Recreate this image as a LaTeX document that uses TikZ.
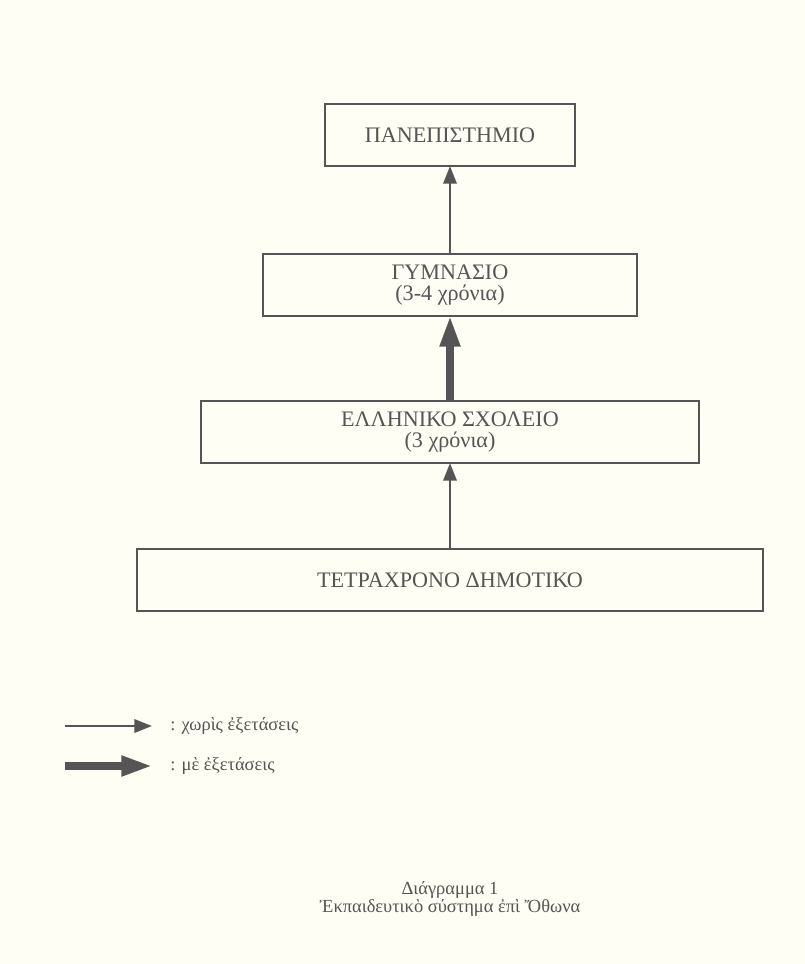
\documentclass[tikz,border=0pt]{standalone}
\usepackage{fontspec}
\setmainfont{Liberation Serif}
\usepackage{tikz}
\usetikzlibrary{arrows.meta}
\definecolor{paper}{RGB}{254,254,244}
\definecolor{ink}{RGB}{85,85,85}
\tikzstyle{arrT}=[-{Triangle[length=10pt,width=7.5pt]},line width=1.5pt,draw=ink]
\tikzstyle{arrB}=[-{Triangle[length=17.5pt,width=11pt]},line width=4pt,draw=ink]

\begin{document}
\begin{tikzpicture}[x=0.02cm,y=-0.02cm]
  \tikzstyle levelS=[draw=ink,line width=1pt,text=ink,inner sep=0pt,outer sep=0pt,
    minimum height=1.24cm,align=center,font=\fontsize{12.6}{12}\selectfont];
  \tikzstyle noteS=[text=ink,inner sep=0pt,font=\fontsize{10.5}{9.5}\selectfont];
  \fill[paper] (0,0) rectangle (805,964);
  \useasboundingbox (0,0) rectangle (805,964);
  \foreach \ly/\lw/\lname/\ltext in {
    135/5.00/uni/ΠΑΝΕΠΙΣΤΗΜΙΟ,
    285/7.48/gym/{ΓΥΜΝΑΣΙΟ\\(3-4 χρόνια)},
    432/9.96/ell/{ΕΛΛΗΝΙΚΟ ΣΧΟΛΕΙΟ\\(3 χρόνια)},
    580/12.52/dim/ΤΕΤΡΑΧΡΟΝΟ ΔΗΜΟΤΙΚΟ}
  {
    \node[levelS,minimum width=\lw cm] (\lname) at (450,\ly) {\ltext};
  }
  \draw[arrT] (dim) -- (ell);
  \draw[arrB] (ell) -- (gym);
  \draw[arrT] (gym) -- (uni);

  % legend
  \coordinate (k1) at (65,726);
  \coordinate (k1e) at (152,726);
  \coordinate (k2) at (65,766);
  \coordinate (k2e) at (152,766);
  \draw[arrT] (k1) -- (k1e);
  \draw[arrB] (k2) -- (k2e);
  \node[noteS,anchor=west] (k1t) at (170,726) {: χωρὶς ἐξετάσεις};
  \node[noteS,anchor=west] (k2t) at (170,766) {: μὲ ἐξετάσεις};

  \node[noteS,align=center] (cap) at (450,899)
    {Διάγραμμα 1\\Ἐκπαιδευτικὸ σύστημα ἐπὶ Ὄθωνα};
\end{tikzpicture}
\end{document}
